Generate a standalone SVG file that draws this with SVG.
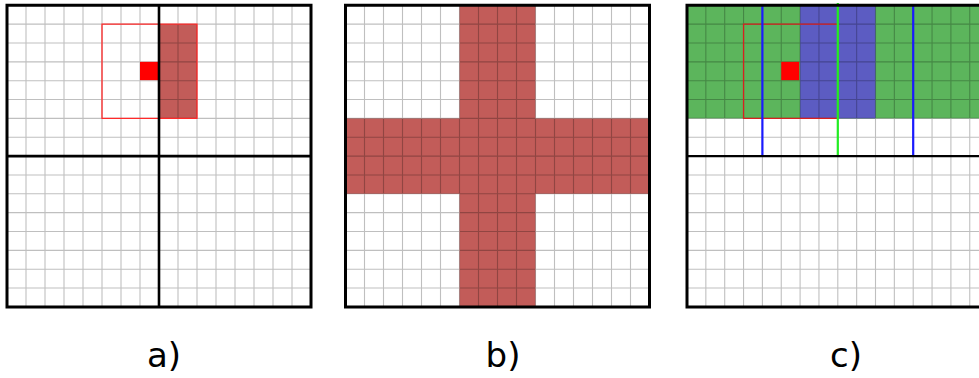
<svg xmlns="http://www.w3.org/2000/svg" width="979" height="378" viewBox="0 0 979 378">
  <style>
    .ns { vector-effect: non-scaling-stroke; }
    .grid { fill: none; stroke: #000; stroke-opacity: 0.25; stroke-width: 1.1; }
    .thick { stroke: #000; stroke-width: 2.6; fill: none; vector-effect: non-scaling-stroke; }
    .border { stroke: #000; stroke-width: 3; fill: none; vector-effect: non-scaling-stroke; }
    .darkred { fill: #c25c59; }
    .green { fill: #5cb55c; }
    .blue { fill: #5c5cc2; }
    .outline { fill: none; stroke: #ff2a2a; stroke-width: 1.3; vector-effect: non-scaling-stroke; }
    .outline-c { fill: none; stroke: #d82020; stroke-width: 1.3; vector-effect: non-scaling-stroke; }
    .pt { fill: #ff0000; }
    .bl { stroke: #1a1aff; stroke-width: 2.2; vector-effect: non-scaling-stroke; }
    .gl { stroke: #22ee22; stroke-width: 2.2; vector-effect: non-scaling-stroke; }
    .label { font-family: "DejaVu Sans", "Liberation Sans", sans-serif; font-size: 34px; fill: #000; text-anchor: middle; }
  </style>
  <defs>
    <path id="gridpath" class="ns" d="M1 0V16M2 0V16M3 0V16M4 0V16M5 0V16M6 0V16M7 0V16M8 0V16M9 0V16M10 0V16M11 0V16M12 0V16M13 0V16M14 0V16M15 0V16M0 1H16M0 2H16M0 3H16M0 4H16M0 5H16M0 6H16M0 7H16M0 8H16M0 9H16M0 10H16M0 11H16M0 12H16M0 13H16M0 14H16M0 15H16"/>
  </defs>
  <rect x="0" y="0" width="979" height="378" fill="#fff"/>

  <g id="panel-a" transform="translate(7,5.3) scale(19,18.85)">
    <rect x="0" y="0" width="16" height="16" fill="#fff"/>
    <rect class="darkred" x="8" y="1" width="2" height="5"/>
    <use href="#gridpath" class="grid"/>
    <rect class="outline" x="5" y="1" width="5" height="5"/>
    <rect class="pt" x="7" y="3" width="0.95" height="0.97"/>
    <path class="thick" d="M8 0V16M0 8H16"/>
    <rect class="border" x="0" y="0" width="16" height="16"/>
  </g>

  <g id="panel-b" transform="translate(345.5,5.3) scale(19,18.85)">
    <rect x="0" y="0" width="16" height="16" fill="#fff"/>
    <rect class="darkred" x="6" y="0" width="4" height="16"/>
    <rect class="darkred" x="0" y="6" width="16" height="4"/>
    <use href="#gridpath" class="grid"/>
    <rect class="border" x="0" y="0" width="16" height="16"/>
  </g>

  <g id="panel-c" transform="translate(687,5.3) scale(18.85,18.85)">
    <rect x="0" y="0" width="16" height="16" fill="#fff"/>
    <rect class="green" x="0" y="0" width="16" height="6"/>
    <rect class="blue" x="6" y="0" width="4" height="6"/>
    <use href="#gridpath" class="grid"/>
    <rect class="outline-c" x="3" y="1" width="5" height="5"/>
    <rect class="pt" x="5" y="3" width="0.95" height="0.97"/>
    <path class="bl" d="M4 0V8M12 0V8"/>
    <path class="gl" d="M8 -0.12V8"/>
    <path class="thick" d="M0 8H16" style="stroke-width:2.2"/>
    <rect class="border" x="0" y="0" width="16" height="16"/>
  </g>

  <g id="labels">
    <text class="label" x="164" y="367">a)</text>
    <text class="label" x="503" y="367">b)</text>
    <text class="label" x="846" y="367">c)</text>
  </g>
</svg>
